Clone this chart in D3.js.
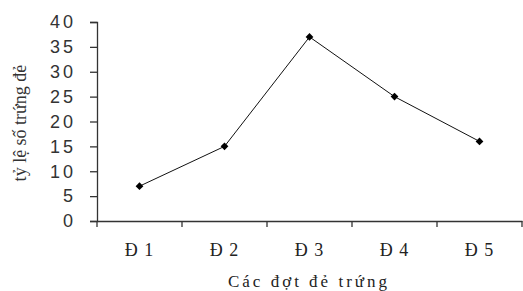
<!DOCTYPE html>
<html>
<head>
<meta charset="utf-8">
<script src="https://cdn.jsdelivr.net/npm/d3@7"></script>
<style>
  body { margin: 0; background: #fff; }
</style>
</head>
<body>
<div id="chart"></div>
<script>
// data
var dots = ["Đ 1", "Đ 2", "Đ 3", "Đ 4", "Đ 5"];
var rates = [7, 15, 37, 25, 16];
var yTicks = [0, 5, 10, 15, 20, 25, 30, 35, 40];

var svgWidth = 523;
var svgHeight = 291;

var svg = d3.select("#chart").append("svg")
  .attr("width", svgWidth)
  .attr("height", svgHeight);

var xScale = d3.scaleBand()
  .domain(dots)
  .range([97, 522]);

var yScale = d3.scaleLinear()
  .domain([0, 40])
  .range([221, 22]);

// y axis
var yAxis = d3.axisLeft(yScale)
  .tickValues(yTicks)
  .tickSize(7)
  .tickPadding(14);

var yG = svg.append("g")
  .attr("transform", "translate(97,0)")
  .call(yAxis);
yG.select(".domain").attr("stroke", "#333").attr("stroke-width", 1.3);
yG.selectAll(".tick line").attr("stroke", "#333").attr("stroke-width", 1.3);
yG.selectAll(".tick text")
  .attr("font-family", "Liberation Sans, Arial, sans-serif")
  .attr("font-size", "18px")
  .attr("letter-spacing", "3px")
  .attr("fill", "#333");

// x axis, labels centred in bands, ticks at band edges
var xAxis = d3.axisBottom(xScale)
  .tickSize(0)
  .tickPadding(22);

var xG = svg.append("g")
  .attr("transform", "translate(0,221)")
  .call(xAxis);
xG.select(".domain").attr("stroke", "#333").attr("stroke-width", 1.3);
xG.selectAll(".tick text")
  .attr("font-family", "Liberation Serif, Times New Roman, serif")
  .attr("font-size", "18px")
  .attr("letter-spacing", "1px")
  .attr("fill", "#222");

var edges = [xScale.range()[0]].concat(dots.map(d => xScale(d) + xScale.bandwidth()));
xG.selectAll(".edge").data(edges).enter().append("line")
  .attr("class", "edge")
  .attr("x1", d => d).attr("x2", d => d)
  .attr("y1", 0).attr("y2", 6)
  .attr("stroke", "#333")
  .attr("stroke-width", 1.3);

// line
var line = d3.line()
  .x((d, i) => xScale(dots[i]) + xScale.bandwidth() / 2)
  .y(d => yScale(d));

svg.append("path")
  .datum(rates)
  .attr("d", line)
  .attr("fill", "none")
  .attr("stroke", "#111")
  .attr("stroke-width", 1);

// diamond markers (square turned 45 degrees)
svg.selectAll(".pt").data(rates).enter().append("path")
  .attr("class", "pt")
  .attr("d", d3.symbol().type(d3.symbolSquare).size(30))
  .attr("transform", (d, i) => `translate(${xScale(dots[i]) + xScale.bandwidth() / 2},${yScale(d)}) rotate(45)`)
  .attr("fill", "#000");

// axis titles
svg.append("text")
  .attr("x", 309)
  .attr("y", 287)
  .attr("text-anchor", "middle")
  .attr("font-family", "Liberation Serif, Times New Roman, serif")
  .attr("font-size", "17px")
  .attr("letter-spacing", "3px")
  .attr("fill", "#222")
  .text("Các đợt đẻ trứng");

svg.append("text")
  .attr("transform", "translate(26,123) rotate(-90)")
  .attr("text-anchor", "middle")
  .attr("font-family", "Liberation Serif, Times New Roman, serif")
  .attr("font-size", "18px")
  .attr("fill", "#333")
  .text("tỷ lệ số trứng đẻ");
</script>
</body>
</html>
